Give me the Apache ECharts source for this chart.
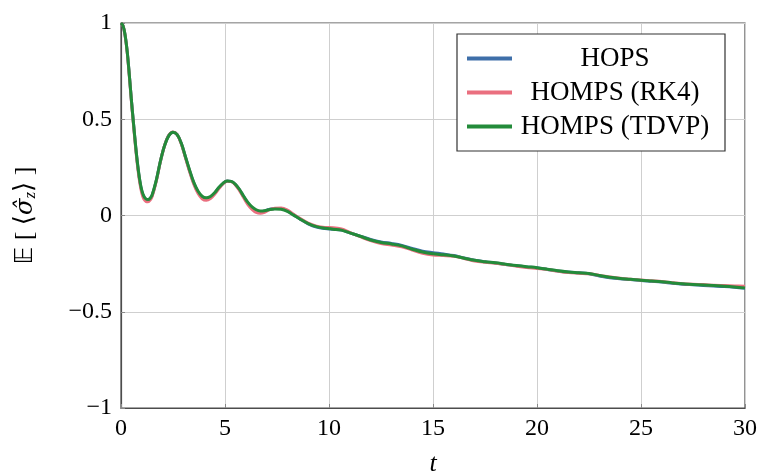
<!DOCTYPE html>
<html>
<head>
<meta charset="utf-8">
<script src="https://cdn.jsdelivr.net/npm/echarts@6/dist/echarts.min.js"></script>
<style>
  html, body { margin: 0; padding: 0; background: #fff; }
  #chart { width: 760px; height: 473px; }
</style>
</head>
<body>
<div id="chart"></div>
<script>
// Time grid shared by all three runs
const times = [
  0, 0.1, 0.2, 0.3, 0.4, 0.5, 0.6, 0.7, 0.8, 0.9, 1.0, 1.1, 1.2, 1.3, 1.4, 1.5,
  1.7, 1.9, 2.1, 2.3, 2.5, 2.7, 2.9, 3.1, 3.3, 3.5, 3.7, 3.9, 4.1, 4.3, 4.5, 4.7,
  4.9, 5.1, 5.3, 5.5, 5.7, 5.9, 6.1, 6.3, 6.5, 6.7, 6.9,
  7.1, 7.4, 7.7, 8.0, 8.3, 8.6, 9.0, 9.4, 9.8, 10.2, 10.6,
  11.0, 11.5, 12.0, 12.5, 13.0, 13.5, 14.0, 14.5, 15.0, 15.5, 16.0, 16.5, 17.0,
  17.5, 18.0, 18.5, 19.0, 19.5, 20.0, 20.5, 21.0, 21.5, 22.0, 22.5, 23.0, 23.5,
  24.0, 24.5, 25.0, 25.5, 26.0, 26.5, 27.0, 27.5, 28.0, 28.5, 29.0, 29.5, 30.0
];

// E[<sigma_z>] for each method
const hops = [
  1.0, 0.985, 0.935, 0.85, 0.73, 0.6, 0.48, 0.363, 0.262, 0.182, 0.126, 0.095, 0.08, 0.078, 0.086, 0.105,
  0.183, 0.284, 0.365, 0.416, 0.433, 0.42, 0.374, 0.303, 0.232, 0.168, 0.122, 0.095, 0.087, 0.095, 0.115, 0.143,
  0.166, 0.179, 0.177, 0.161, 0.133, 0.097, 0.064, 0.04, 0.025, 0.02, 0.023,
  0.031, 0.037, 0.036, 0.024, 0.003, -0.018, -0.043, -0.06, -0.068, -0.072, -0.076,
  -0.09, -0.107, -0.124, -0.137, -0.145, -0.155, -0.171, -0.185, -0.193, -0.2, -0.208, -0.221, -0.232,
  -0.24, -0.247, -0.254, -0.261, -0.267, -0.272, -0.28, -0.288, -0.294, -0.298, -0.303, -0.314, -0.323,
  -0.329, -0.333, -0.338, -0.342, -0.346, -0.352, -0.357, -0.36, -0.363, -0.366, -0.369, -0.373, -0.378
];

const hompsRk4 = [
  1.0, 0.985, 0.933, 0.846, 0.725, 0.594, 0.472, 0.355, 0.253, 0.172, 0.116, 0.085, 0.073, 0.071, 0.08, 0.1,
  0.18, 0.283, 0.365, 0.417, 0.434, 0.42, 0.372, 0.3, 0.227, 0.162, 0.115, 0.087, 0.079, 0.088, 0.11, 0.139,
  0.164, 0.178, 0.176, 0.159, 0.129, 0.092, 0.057, 0.032, 0.016, 0.012, 0.017,
  0.028, 0.038, 0.039, 0.028, 0.006, -0.015, -0.04, -0.055, -0.062, -0.063, -0.07,
  -0.088, -0.11, -0.13, -0.145, -0.153, -0.162, -0.18, -0.196, -0.205, -0.208, -0.212, -0.223, -0.236,
  -0.243, -0.248, -0.255, -0.263, -0.27, -0.275, -0.281, -0.289, -0.296, -0.3, -0.303, -0.311, -0.319,
  -0.326, -0.331, -0.335, -0.339, -0.343, -0.349, -0.354, -0.357, -0.359, -0.362, -0.364, -0.366, -0.368
];

const hompsTdvp = [
  1.0, 0.985, 0.935, 0.85, 0.73, 0.6, 0.48, 0.365, 0.265, 0.185, 0.13, 0.1, 0.086, 0.083, 0.09, 0.108,
  0.185, 0.285, 0.365, 0.415, 0.432, 0.42, 0.375, 0.305, 0.235, 0.172, 0.127, 0.1, 0.092, 0.099, 0.118, 0.145,
  0.167, 0.179, 0.177, 0.162, 0.135, 0.1, 0.068, 0.045, 0.03, 0.024, 0.025,
  0.03, 0.034, 0.032, 0.021, 0.002, -0.018, -0.042, -0.058, -0.066, -0.071, -0.076,
  -0.09, -0.108, -0.127, -0.14, -0.148, -0.158, -0.175, -0.19, -0.199, -0.204, -0.21, -0.222, -0.233,
  -0.24, -0.246, -0.253, -0.26, -0.266, -0.271, -0.279, -0.287, -0.293, -0.297, -0.301, -0.312, -0.321,
  -0.327, -0.331, -0.336, -0.34, -0.344, -0.35, -0.355, -0.358, -0.361, -0.364, -0.367, -0.371, -0.376
];

const seriesNames = ['HOPS', 'HOMPS (RK4)', 'HOMPS (TDVP)'];
const seriesColors = ['#3e6fa9', '#ea6f7f', '#238b3a'];
const seriesValues = [hops, hompsRk4, hompsTdvp];

const serif = '"Liberation Serif", "DejaVu Serif", serif';

const chart = echarts.init(document.getElementById('chart'), null, { renderer: 'canvas' });

chart.setOption({
  animation: false,
  backgroundColor: '#ffffff',
  grid: {
    left: 121, right: 15, top: 23, bottom: 65,
    outerBoundsMode: 'none',
    containLabel: false,
    show: true, borderColor: '#4d4d4d', borderWidth: 1.2, backgroundColor: 'transparent'
  },
  legend: {
    left: 457, top: 34,
    orient: 'vertical',
    itemWidth: 45, itemHeight: 4, itemGap: 7,
    padding: [11, 12, 11, 10],
    borderColor: '#333', borderWidth: 1.2, borderRadius: 0,
    backgroundColor: '#fff',
    icon: 'rect',
    data: seriesNames,
    formatter: n => '{c|' + n + '}',
    textStyle: {
      rich: {
        c: { fontFamily: serif, fontSize: 27, color: '#000', width: 196, align: 'center', lineHeight: 28 }
      }
    }
  },
  xAxis: {
    type: 'value', min: 0, max: 30, interval: 5,
    name: 't', nameLocation: 'middle', nameGap: 43,
    nameTextStyle: { fontFamily: serif, fontSize: 26, fontStyle: 'italic', color: '#000' },
    axisLine: { show: true, onZero: false, lineStyle: { color: '#4d4d4d', width: 1.2 } },
    axisTick: { show: true, inside: true, length: 4, lineStyle: { color: '#888' } },
    axisLabel: { fontFamily: serif, fontSize: 24, color: '#000', margin: 9 },
    splitLine: { show: true, lineStyle: { color: '#cfcfcf', width: 1 } }
  },
  yAxis: {
    type: 'value', min: -1, max: 1, interval: 0.5,
    name: '{e|𝔼} [ ⟨{g|σ̂}{s|z}⟩ ]', nameLocation: 'middle', nameGap: 82, nameRotate: 90,
    nameTextStyle: {
      fontFamily: serif, fontSize: 26, color: '#000',
      rich: {
        e: { fontFamily: '"DejaVu Sans", serif', fontSize: 24, color: '#000' },
        g: { fontFamily: '"DejaVu Serif", serif', fontSize: 24, fontStyle: 'italic', color: '#000' },
        s: { fontFamily: serif, fontSize: 17, fontStyle: 'italic', color: '#000', verticalAlign: 'bottom', padding: [10, 0, 0, 0] }
      }
    },
    axisLine: { show: true, onZero: false, lineStyle: { color: '#4d4d4d', width: 1.2 } },
    axisTick: { show: true, inside: true, length: 4, lineStyle: { color: '#888' } },
    axisLabel: {
      fontFamily: serif, fontSize: 24, color: '#000', margin: 9,
      formatter: v => String(v).replace('-', '\u2212')
    },
    splitLine: { show: true, lineStyle: { color: '#cfcfcf', width: 1 } }
  },
  series: seriesNames.map((name, i) => ({
    name,
    type: 'line',
    smooth: 0.35,
    showSymbol: false,
    symbol: 'none',
    z: 2 + i,
    color: seriesColors[i],
    lineStyle: { color: seriesColors[i], width: 3 },
    data: times.map((t, k) => [t, seriesValues[i][k]])
  }))
});
</script>
</body>
</html>
